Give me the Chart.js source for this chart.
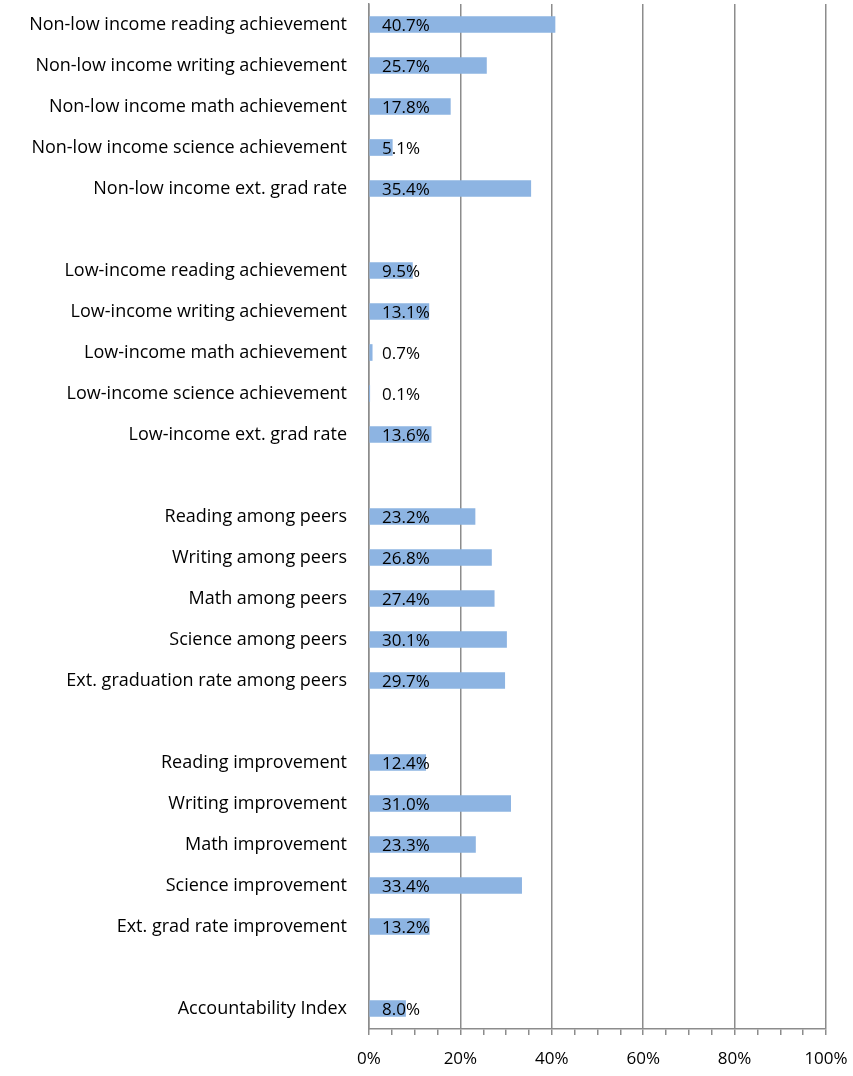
<!DOCTYPE html>
<html>
<head>
<meta charset="utf-8">
<script src="https://cdn.jsdelivr.net/npm/chart.js@4"></script>
<style>
  html, body { margin: 0; padding: 0; background: #fff; }
  #wrap { width: 853px; height: 1076px; position: relative; }
</style>
</head>
<body>
<div id="wrap"><canvas id="chartCanvas"></canvas></div>
<script>
// Category labels (blank entries are spacer rows between groups)
const categories = [
  "Non-low income reading achievement",
  "Non-low income writing achievement",
  "Non-low income math achievement",
  "Non-low income science achievement",
  "Non-low income ext. grad rate",
  "",
  "Low-income reading achievement",
  "Low-income writing achievement",
  "Low-income math achievement",
  "Low-income science achievement",
  "Low-income ext. grad rate",
  "",
  "Reading among peers",
  "Writing among peers",
  "Math among peers",
  "Science among peers",
  "Ext. graduation rate among peers",
  "",
  "Reading improvement",
  "Writing improvement",
  "Math improvement",
  "Science improvement",
  "Ext. grad rate improvement",
  "",
  "Accountability Index",
];

// Percent values for each row
const values = [
  40.7, 25.7, 17.8, 5.1, 35.4,
  null,
  9.5, 13.1, 0.7, 0.1, 13.6,
  null,
  23.2, 26.8, 27.4, 30.1, 29.7,
  null,
  12.4, 31.0, 23.3, 33.4, 13.2,
  null,
  8.0,
];

// Labelled x ticks
const tickLabels = [0, 20, 40, 60, 80, 100];

const fontFamily = "'Open Sans', Lato, sans-serif";
const gridGray = "#8c8c8c";

// Draws the value text just inside the left end of each bar
const valueLabels = {
  id: "valueLabels",
  afterDatasetsDraw(chart) {
    const ctx = chart.ctx;
    const meta = chart.getDatasetMeta(0);
    const x0 = chart.scales.x.getPixelForValue(0);
    ctx.save();
    ctx.font = "17px " + fontFamily;
    ctx.fillStyle = "#000";
    ctx.textAlign = "left";
    ctx.textBaseline = "middle";
    meta.data.forEach((bar, i) => {
      const v = values[i];
      if (v === null) return;
      ctx.fillText(v.toFixed(1) + "%", x0 + 13, bar.y + 2);
    });
    ctx.restore();
  },
};

const ctx = document.getElementById("chartCanvas").getContext("2d");

const myChart = new Chart(ctx, {
  type: "bar",
  data: {
    labels: categories,
    datasets: [
      {
        data: values,
        backgroundColor: "rgb(141, 180, 226)",
        borderWidth: 0,
        barThickness: 16,
      },
    ],
  },
  options: {
    indexAxis: "y",
    responsive: true,
    maintainAspectRatio: false,
    animation: false,
    layout: {
      padding: { top: 4, right: 27, left: 0, bottom: 0 },
    },
    plugins: {
      legend: { display: false },
      tooltip: { enabled: false },
    },
    scales: {
      x: {
        min: 0,
        max: 100,
        afterFit(scale) {
          scale.height = 47;
          scale.paddingLeft = 0;
          scale.paddingRight = 0;
        },
        ticks: {
          stepSize: 5,
          autoSkip: false,
          maxRotation: 0,
          padding: 14,
          color: "#000",
          font: { family: fontFamily, size: 17 },
          callback: function (value) {
            return tickLabels.includes(value) ? value + "%" : "";
          },
        },
        grid: {
          color: (c) =>
            c.tick && c.tick.value % 20 === 0 ? gridGray : "rgba(0,0,0,0)",
          tickColor: gridGray,
          tickLength: 6,
          lineWidth: 1.5,
        },
        border: { display: true, color: gridGray, width: 1.5 },
      },
      y: {
        afterFit(scale) {
          scale.width = 369;
          scale.paddingTop = 0;
          scale.paddingBottom = 0;
        },
        ticks: {
          autoSkip: false,
          padding: 22,
          color: "#000",
          font: { family: fontFamily, size: 18 },
        },
        grid: { display: false, drawTicks: false },
        border: { display: true, color: gridGray, width: 1.5 },
      },
    },
  },
  plugins: [valueLabels],
});
</script>
</body>
</html>
